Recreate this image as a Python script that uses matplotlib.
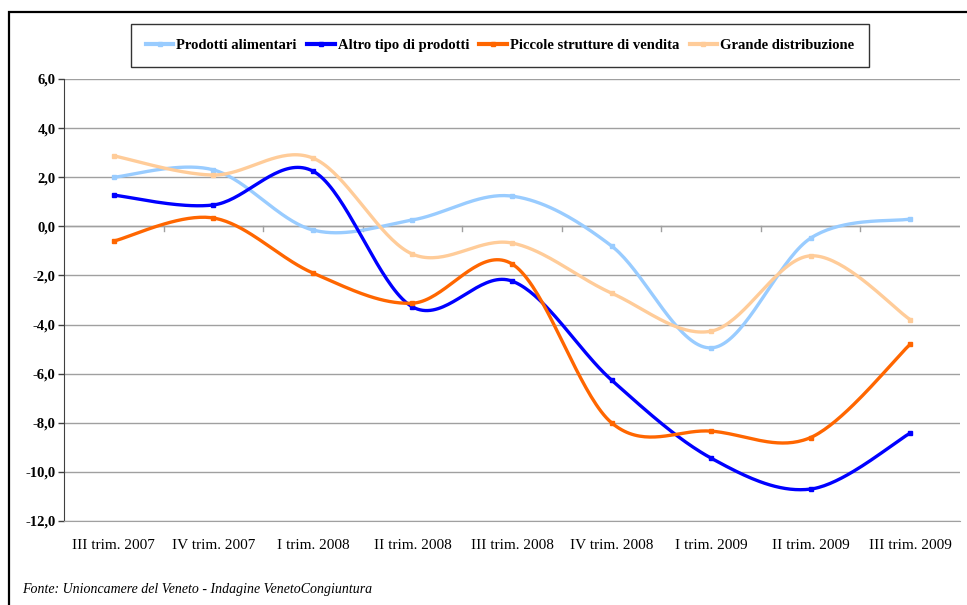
import numpy as np
import matplotlib
matplotlib.use('Agg')
import matplotlib.pyplot as plt
from matplotlib.patches import Rectangle

quarters = ['III trim. 2007', 'IV trim. 2007', 'I trim. 2008', 'II trim. 2008',
            'III trim. 2008', 'IV trim. 2008', 'I trim. 2009', 'II trim. 2009',
            'III trim. 2009']
alimentari = [2.0, 2.3, -0.15, 0.26, 1.23, -0.8, -4.95, -0.48, 0.3]
altro_tipo = [1.27, 0.87, 2.25, -3.28, -2.23, -6.26, -9.44, -10.7, -8.42]
piccole = [-0.6, 0.34, -1.9, -3.13, -1.53, -8.0, -8.34, -8.6, -4.8]
grande = [2.87, 2.09, 2.78, -1.13, -0.68, -2.72, -4.27, -1.2, -3.8]

series = [
    ('Prodotti alimentari', alimentari, '#99CCFF'),
    ('Altro tipo di prodotti', altro_tipo, '#0000FF'),
    ('Piccole strutture di vendita', piccole, '#FF6600'),
    ('Grande distribuzione', grande, '#FFCC99'),
]

FONT = 'Liberation Serif'


def smooth(xs, ys, n=40):
    # excel-like smoothing: catmull-rom segments as cubic beziers
    p = np.column_stack([xs, ys]).astype(float)
    ext = np.vstack([p[0], p, p[-1]])
    out = []
    t = np.linspace(0, 1, n)[:, None]
    for i in range(len(p) - 1):
        p0, p3 = ext[i + 1], ext[i + 2]
        c1 = p0 + (ext[i + 2] - ext[i]) / 6
        c2 = p3 - (ext[i + 3] - ext[i + 1]) / 6
        seg = ((1 - t) ** 3) * p0 + 3 * ((1 - t) ** 2) * t * c1 + 3 * (1 - t) * t ** 2 * c2 + t ** 3 * p3
        out.append(seg if i == 0 else seg[1:])
    out = np.vstack(out)
    return out[:, 0], out[:, 1]


fig = plt.figure(figsize=(9.67, 6.05), dpi=100)
ax = fig.add_axes([64 / 967, 1 - 521 / 605, 896 / 967, 442 / 605])

x = np.arange(len(quarters))
handles = []
for name, vals, col in series:
    sx, sy = smooth(x, vals)
    ax.plot(sx, sy, color=col, lw=2.4, solid_capstyle='round', zorder=3)
    ax.plot(x, vals, ls='none', marker='s', ms=3, color=col, zorder=4)
    h, = ax.plot([], [], color=col, lw=3, marker='s', ms=3.5, label=name)
    handles.append(h)

ax.set_xlim(-0.5, len(quarters) - 0.5)
ax.set_ylim(-12, 6)
ax.set_yticks(np.arange(-12, 6.1, 2))
ax.set_yticklabels([f'{v:.1f}'.replace('.', ',') for v in np.arange(-12, 6.1, 2)],
                   fontfamily=FONT, fontweight='bold', fontsize=10.5)
ax.tick_params(axis='y', length=4, width=1, color='#404040', pad=2)
ax.grid(axis='y', color='#A0A0A0', lw=1)
ax.set_axisbelow(True)

ax.set_xticks(x)
ax.set_xticklabels(quarters, fontfamily=FONT, fontsize=11)
ax.tick_params(axis='x', length=0, pad=13)

for s in ['top', 'right']:
    ax.spines[s].set_visible(False)
ax.spines['bottom'].set_color('#A0A0A0')
ax.spines['left'].set_color('#404040')

# category axis crossing at zero, small ticks between categories
ax.axhline(0, color='#A0A0A0', lw=1, zorder=1)
for xb in x[:-1] + 0.5:
    ax.plot([xb, xb], [0, -0.17], color='#A0A0A0', lw=1, zorder=1)

leg = fig.legend(handles=handles, loc='center', bbox_to_anchor=(500 / 967, 1 - 45.5 / 605),
                 ncol=4, frameon=True, fancybox=False, handlelength=1.9, handletextpad=0.2,
                 columnspacing=0.7, borderpad=1.0, borderaxespad=0,
                 prop={'family': FONT, 'weight': 'bold', 'size': 10.5})
leg.get_frame().set_edgecolor('black')
leg.get_frame().set_linewidth(1)

fig.text(22 / 967, 1 - 590 / 605, 'Fonte: Unioncamere del Veneto - Indagine VenetoCongiuntura',
         fontfamily=FONT, fontstyle='italic', fontsize=10, va='center', ha='left')

fig.patches.append(Rectangle((9 / 967, -0.1), 1.2, 1.1 - 12 / 605, transform=fig.transFigure,
                             fill=False, edgecolor='black', lw=1.6, clip_on=False))

fig.savefig('out.png', dpi=100)
